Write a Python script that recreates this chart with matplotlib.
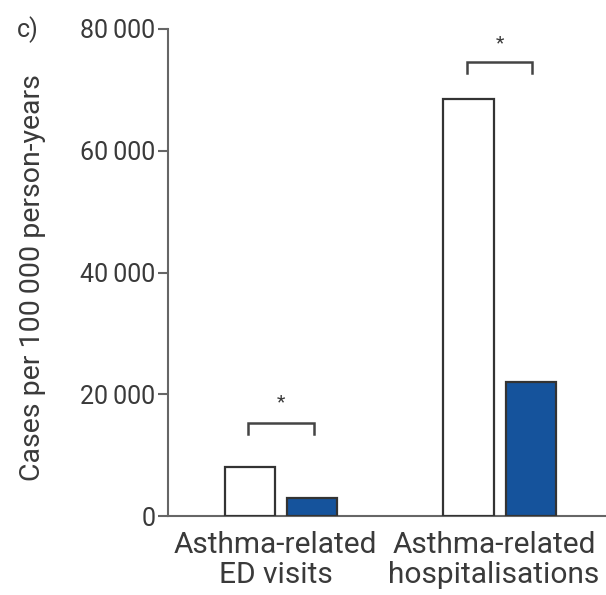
import matplotlib
matplotlib.use("Agg")
import matplotlib.pyplot as plt
import numpy as np
from matplotlib.ticker import FuncFormatter

# data
categories = ["Asthma-related\nED visits", "Asthma-related\nhospitalisations"]
white_vals = [8000, 68500]
blue_vals = [3000, 22000]
y_ticks = [0, 20000, 40000, 60000, 80000]
# significance brackets: (bracket top, leg bottom, asterisk y)
brackets = [(15300, 13500, 18600), (74600, 72800, 77700)]

plt.rcParams["font.family"] = ["Roboto", "DejaVu Sans"]
text_color = "#3a3a3a"
edge = "#333333"
blue = "#15539c"

fig = plt.figure(figsize=(6.06, 5.95), dpi=100)
ax = fig.add_axes([168 / 606, 1 - 516 / 595, (606 - 168) / 606, (516 - 29) / 595])

x = np.arange(len(categories))
w = 0.229
off = 0.142
ax.bar(x - off, white_vals, width=w, color="white", edgecolor=edge, linewidth=1.6, zorder=3)
ax.bar(x + off, blue_vals, width=w, color=blue, edgecolor=edge, linewidth=1.6, zorder=3)

for xi, (top, leg, star) in zip(x, brackets):
    xl, xr = xi - 0.15, xi + 0.15
    ax.plot([xl, xl, xr, xr], [leg, top, top, leg], color="#444444", lw=1.8,
            solid_joinstyle="miter", clip_on=False)
    ax.text(xi, star, "*", ha="center", va="center", fontsize=14, color=text_color)

ax.set_xlim(-0.517, 1.487)
ax.set_ylim(0, 80000)
ax.set_yticks(y_ticks)
ax.yaxis.set_major_formatter(FuncFormatter(lambda v, p: f"{int(v):,}".replace(",", "\u2009")))
ax.set_xticks(x - 0.025)
ax.set_xticklabels(categories, linespacing=1.1)

for s in ["top", "right"]:
    ax.spines[s].set_visible(False)
for s in ["left", "bottom"]:
    ax.spines[s].set_color("#666666")
    ax.spines[s].set_linewidth(1.5)
ax.tick_params(axis="y", length=7, width=1.5, color="#666666", labelsize=18,
               labelcolor=text_color, pad=2)
ax.tick_params(axis="x", length=0, labelsize=21.5, labelcolor=text_color, pad=11)

ax.set_ylabel("Cases per 100\u2009000 person-years", fontsize=20.5, color=text_color, va="center")
ax.yaxis.set_label_coords(-0.31, 0.49)
fig.text(17 / 606, 1 - 30 / 595, "c)", fontsize=18, color=text_color, va="center", ha="left")

fig.savefig("out.png", dpi=100)
